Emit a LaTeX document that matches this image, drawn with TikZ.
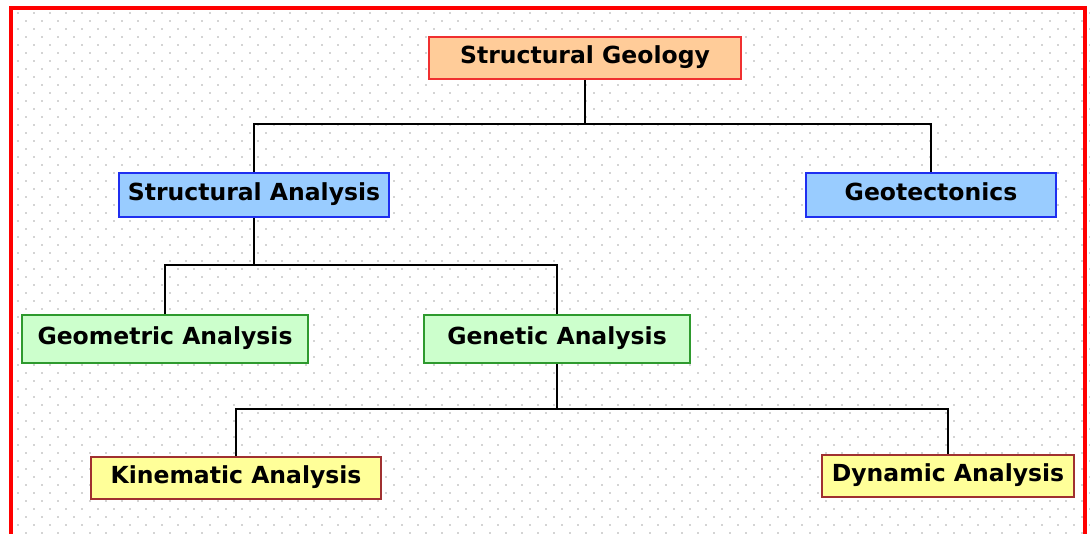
\documentclass[tikz,border=0pt]{standalone}
\usepackage{fontspec}
\setmainfont{DejaVu Sans}
\definecolor{sgfill}{HTML}{FFCC99}
\definecolor{sgdraw}{HTML}{F03030}
\definecolor{safill}{HTML}{99CCFF}
\definecolor{sadraw}{HTML}{1F2FF0}
\definecolor{gnfill}{HTML}{CCFFCC}
\definecolor{gndraw}{HTML}{2E9A2E}
\definecolor{knfill}{HTML}{FFFF99}
\definecolor{kndraw}{HTML}{A03030}
\definecolor{dotc}{HTML}{D4D4D4}
\definecolor{framec}{HTML}{FF0000}
\tikzset{
  box/.style={rectangle, inner sep=0pt, line width=2pt, text=black,
    text height=17pt, text depth=7pt,
    font=\fontsize{23.5}{28}\selectfont\bfseries},
  lvlA/.style={box, fill=sgfill, draw=sgdraw},
  lvlB/.style={box, fill=safill, draw=sadraw},
  lvlC/.style={box, fill=gnfill, draw=gndraw},
  lvlD/.style={box, fill=knfill, draw=kndraw},
  conn/.style={line width=1.8pt, draw=black}
}
\begin{document}
\begin{tikzpicture}[x=1pt,y=-1pt]
\useasboundingbox (0,0) rectangle (1090,533);
\fill[white] (0,0) rectangle (1090,533);
\begin{scope}
\clip (0,0) rectangle (1090,533);
% dot grid
\foreach \r in {0,...,65}{
  \pgfmathsetmacro{\yy}{13+8*\r}
  \pgfmathsetmacro{\xo}{mod(\r,2)==0 ? 18 : 26}
  \foreach \c in {0,...,67}{
    \fill[dotc] ({\xo+16*\c-1},{\yy-1}) rectangle ++(2,2);
  }
}
% frame
\draw[framec, line width=4.5pt] (11,545) -- (11,8) -- (1085,8) -- (1085,545);
\end{scope}
% nodes
\node[lvlA, minimum width=312pt, minimum height=42pt] (sg) at (585,58) {Structural Geology};
\node[lvlB, minimum width=270pt, minimum height=44pt] (sa) at (254,195) {Structural Analysis};
\node[lvlB, minimum width=250pt, minimum height=44pt] (geo) at (931,195) {Geotectonics};
\node[lvlC, minimum width=286pt, minimum height=48pt] (gm) at (165,339) {Geometric Analysis};
\node[lvlC, minimum width=266pt, minimum height=48pt] (gn) at (557,339) {Genetic Analysis};
\node[lvlD, minimum width=290pt, minimum height=42pt] (kin) at (236,478) {Kinematic Analysis};
\node[lvlD, minimum width=252pt, minimum height=42pt] (dyn) at (948,476) {Dynamic Analysis};
% connectors
\coordinate (b1) at (585,124);
\coordinate (b2) at (254,265);
\coordinate (b3) at (557,409);
\draw[conn] (sg.south) -- (b1);
\draw[conn] (b1) -| (sa.north);
\draw[conn] (b1) -| (geo.north);
\draw[conn] (sa.south) -- (b2);
\draw[conn] (b2) -| (gm.north);
\draw[conn] (b2) -| (gn.north);
\draw[conn] (gn.south) -- (b3);
\draw[conn] (b3) -| (kin.north);
\draw[conn] (b3) -| (dyn.north);
\end{tikzpicture}
\end{document}
